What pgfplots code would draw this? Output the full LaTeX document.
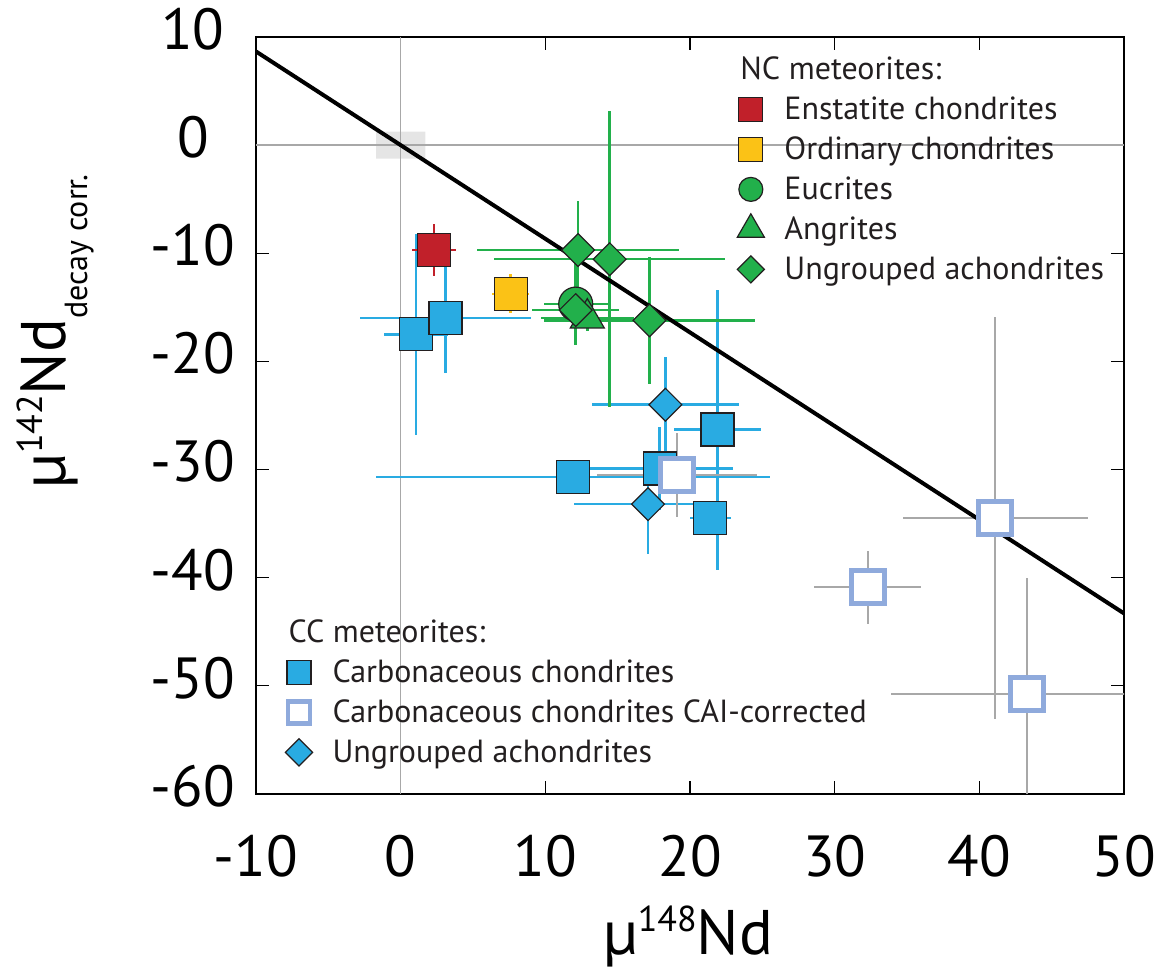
\documentclass[border=0pt]{standalone}
\usepackage{fontspec}
\setmainfont{PT Sans}
\usepackage{pgfplots}
\usepackage{pgfplotstable}
\pgfplotsset{compat=1.18}

\definecolor{ncred}{HTML}{C1202A}
\definecolor{ncyel}{HTML}{FBC216}
\definecolor{ncgreen}{HTML}{22B04B}
\definecolor{ccblue}{HTML}{29ABE2}
\definecolor{cailb}{HTML}{8FAADC}
\definecolor{ebgray}{HTML}{A8A8A8}
\definecolor{txt}{HTML}{231F20}

% x y ex ey
\pgfplotstableread{
x y ex ey
1.07 -17.5 2.2 9.3
3.1 -16.0 5.9 5.1
11.9 -30.7 13.6 0.8
17.9 -29.9 5.1 3.8
21.9 -26.3 3.0 12.95
21.4 -34.5 1.4 1.0
}\ccsq
\pgfplotstableread{
x y ex ey
18.3 -24.0 5.1 4.4
17.1 -33.2 5.1 4.6
}\ccdia
\pgfplotstableread{
x y ex ey
19.1 -30.5 5.5 3.9
32.3 -40.9 3.7 3.4
41.1 -34.5 6.4 18.6
43.3 -50.75 9.4 10.7
}\cai
\pgfplotstableread{
x y ex ey
2.3 -9.7 1.5 2.4
}\ecr
\pgfplotstableread{
x y ex ey
7.6 -13.75 1.3 1.8
}\ocr
\pgfplotstableread{
x y ex ey
12.1 -14.7 2.2 3.8
}\euc
\pgfplotstableread{
x y ex ey
12.9 -16.0 3.2 1.2
}\ang
\pgfplotstableread{
x y ex ey
12.26 -9.7 7.0 4.56
14.45 -10.55 8.0 13.7
17.2 -16.2 7.3 5.9
12.1 -15.25 3.0 1.0
}\ncdia

\pgfplotsset{
  ebars/.style={only marks, mark=none, forget plot,
    error bars/.cd, x dir=both, x explicit, y dir=both, y explicit,
    error mark=none, error bar style={line width=1.25pt, #1}},
  mylegend/.style={legend cell align=left,
    legend style={draw=none, fill=none, inner sep=0pt, row sep=2pt, column sep=9pt,
      font=\fontsize{16}{19}\selectfont, text=txt,
      nodes={inner sep=1pt, text height=13pt, text depth=3pt}},
    legend image code/.code={%
      \draw[##1] plot coordinates {(6pt,0pt)};
      \path (0pt,0pt) (12pt,0pt);}},
}

\begin{document}
\begin{tikzpicture}
\begin{axis}[name=ax,
  scale only axis, width=434pt, height=378.5pt,
  xmin=-10, xmax=50, ymin=-60, ymax=10,
  xtick={-10,0,...,50}, ytick={-60,-50,...,10},
  minor tick num=0,
  tick align=inside, major tick length=6.5pt,
  tick style={line width=0.6pt, black},
  axis line style={line width=1pt, black},
  /pgf/number format/assume math mode=true,
  tick label style={font=\fontsize{29}{32}\selectfont, inner sep=0pt},
  xticklabel style={anchor=base, yshift=-41.5pt},
  yticklabel style={anchor=center, xshift=-31.5pt, yshift=4pt},
  xlabel={µ\raisebox{11.5pt}{\fontsize{18}{20}\selectfont 148}Nd},
  ylabel={µ\raisebox{11.5pt}{\fontsize{18}{20}\selectfont 142}Nd\raisebox{-11pt}{\fontsize{16}{18}\selectfont decay corr.}},
  label style={font=\fontsize{31.5}{36}\selectfont, inner sep=0pt},
  xlabel style={at={(axis description cs:0.4977,-0.2126)}, anchor=base},
  ylabel style={at={(axis description cs:-0.220,0.611)}, anchor=base, rotate=0},
  mylegend,
  legend style={at={(axis description cs:0.0334,0.2378)}, anchor=north west},
]
% reference lines and origin box
\addplot[fill=black!10, draw=none, forget plot] coordinates {(-1.7,-1.25) (1.7,-1.25) (1.7,1.25) (-1.7,1.25) (-1.7,-1.25)};
\addplot[ebgray, line width=0.65pt, forget plot] coordinates {(0,-60) (0,10)};
\addplot[ebgray, line width=0.65pt, forget plot] coordinates {(-10,0) (50,0)};
% CC error bars
\addplot[ebars=ccblue] table[x=x, y=y, x error=ex, y error=ey] {\ccsq};
\addplot[ebars=ccblue] table[x=x, y=y, x error=ex, y error=ey] {\ccdia};
\addplot[ebars={ebgray, line width=1pt}] table[x=x, y=y, x error=ex, y error=ey] {\cai};
% CC marks
\addplot[only marks, forget plot, mark=square*, mark size=8.25pt, mark options={fill=ccblue, draw=txt, line width=0.6pt}] table[x=x, y=y] {\ccsq};
\addplot[only marks, forget plot, mark=square*, mark size=5.8pt, mark options={rotate=45, fill=ccblue, draw=txt, line width=0.6pt}] table[x=x, y=y] {\ccdia};
% NC error bars
\addplot[ebars=ncred] table[x=x, y=y, x error=ex, y error=ey] {\ecr};
\addplot[ebars=ncyel] table[x=x, y=y, x error=ex, y error=ey] {\ocr};
\addplot[ebars=ncgreen] table[x=x, y=y, x error=ex, y error=ey] {\euc};
\addplot[ebars=ncgreen] table[x=x, y=y, x error=ex, y error=ey] {\ang};
\addplot[ebars=ncgreen] table[x=x, y=y, x error=ex, y error=ey] {\ncdia};
% NC marks
\addplot[only marks, forget plot, mark=square*, mark size=8.25pt, mark options={fill=ncred, draw=txt, line width=0.6pt}] table[x=x, y=y] {\ecr};
\addplot[only marks, forget plot, mark=square*, mark size=8.25pt, mark options={fill=ncyel, draw=txt, line width=0.6pt}] table[x=x, y=y] {\ocr};
\addplot[only marks, forget plot, mark=*, mark size=8.5pt, mark options={fill=ncgreen, draw=txt, line width=0.6pt}] table[x=x, y=y] {\euc};
\addplot[only marks, forget plot, mark=triangle*, mark size=9.8pt, mark options={fill=ncgreen, draw=txt, line width=0.6pt}] table[x=x, y=y] {\ang};
\addplot[only marks, forget plot, mark=square*, mark size=5.8pt, mark options={rotate=45, fill=ncgreen, draw=txt, line width=0.6pt}] table[x=x, y=y] {\ncdia};
% regression line
\addplot[black, line width=2pt, forget plot] coordinates {(-10,8.66) (50,-43.3)};
% CAI-corrected marks
\addplot[only marks, forget plot, mark=square*, mark size=8.25pt, mark options={fill=white, draw=cailb, line width=2.5pt}] table[x=x, y=y] {\cai};
% CC legend
\addlegendimage{empty legend}
\addlegendentry{\kern-22pt CC meteorites:}
\addlegendimage{only marks, mark=square*, mark size=6pt, mark options={fill=ccblue, draw=txt, line width=0.6pt}}
\addlegendentry{Carbonaceous chondrites}
\addlegendimage{only marks, mark=square*, mark size=5.5pt, mark options={fill=white, draw=cailb, line width=2.2pt}}
\addlegendentry{Carbonaceous chondrites CAI-corrected}
\addlegendimage{only marks, mark=square*, mark size=4.8pt, mark options={rotate=45, fill=ccblue, draw=txt, line width=0.6pt}}
\addlegendentry{Ungrouped achondrites}
\end{axis}
\begin{axis}[at={(ax.south west)}, anchor=south west,
  scale only axis, width=434pt, height=378.5pt,
  xmin=-10, xmax=50, ymin=-60, ymax=10, hide axis,
  mylegend,
  legend style={at={(axis description cs:0.554,0.9815)}, anchor=north west},
]
\addplot[draw=none, forget plot] coordinates {(0,0)};
\addlegendimage{empty legend}
\addlegendentry{\kern-22pt NC meteorites:}
\addlegendimage{only marks, mark=square*, mark size=6pt, mark options={fill=ncred, draw=txt, line width=0.6pt}}
\addlegendentry{Enstatite chondrites}
\addlegendimage{only marks, mark=square*, mark size=6pt, mark options={fill=ncyel, draw=txt, line width=0.6pt}}
\addlegendentry{Ordinary chondrites}
\addlegendimage{only marks, mark=*, mark size=6pt, mark options={fill=ncgreen, draw=txt, line width=0.6pt}}
\addlegendentry{Eucrites}
\addlegendimage{only marks, mark=triangle*, mark size=7.8pt, mark options={fill=ncgreen, draw=txt, line width=0.6pt}}
\addlegendentry{Angrites}
\addlegendimage{only marks, mark=square*, mark size=4.8pt, mark options={rotate=45, fill=ncgreen, draw=txt, line width=0.6pt}}
\addlegendentry{Ungrouped achondrites}
\end{axis}
\pgfresetboundingbox
\path ([xshift=-128pt,yshift=-88.5pt]ax.south west) rectangle ([xshift=21pt,yshift=18.5pt]ax.north east);
\end{tikzpicture}
\end{document}
